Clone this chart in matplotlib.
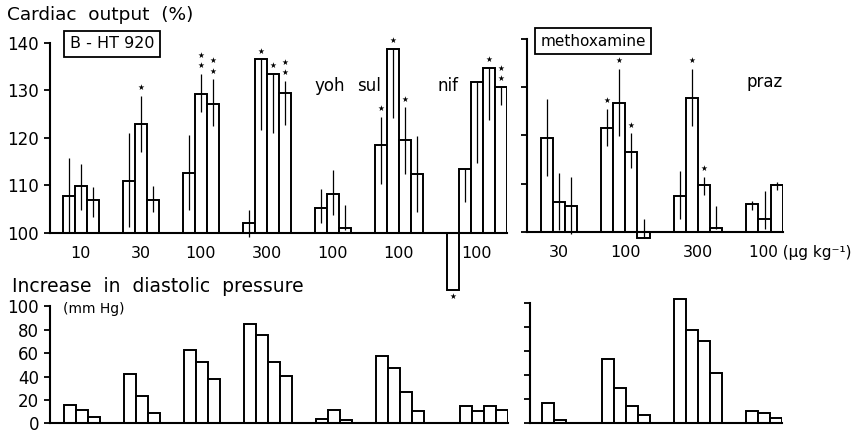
import matplotlib.pyplot as plt

# cardiac output (% of control), one list per dose group
co_bht = [[107.8, 109.8, 106.9], [110.9, 123.0, 106.9], [112.7, 129.3, 127.2],
          [102.2, 136.5, 133.5, 129.5], [105.3, 108.2, 101.1],
          [118.5, 138.7, 119.5, 112.4], [88.0, 113.4, 131.7, 134.7, 130.7]]
co_bht_lo = [[100.2, 104.8, 103.4], [101.2, 117.1, 104.5], [104.8, 125.5, 122.4],
             [99.2, 121.6, 121.0, 122.7], [102.1, 103.8, 100.6],
             [110.4, 124.1, 112.5, 104.5], [88.0, 106.6, 114.7, 123.7, 126.9]]
co_bht_hi = [[115.7, 114.6, 109.7], [121.0, 128.8, 109.9], [120.6, 133.5, 132.3],
             [104.8, 136.5, 133.5, 132.0], [109.2, 113.2, 105.9],
             [124.4, 138.7, 126.4, 120.4], [88.0, 113.4, 131.7, 134.7, 130.7]]
stars_bht = [[0, 0, 0], [0, 1, 0], [0, 2, 2], [0, 1, 1, 2], [0, 0, 0],
             [1, 1, 1, 0], [1, 0, 0, 1, 2]]
dose_bht = ['10', '30', '100', '300', '100', '100', '100']

co_mx = [[119.4, 106.2, 105.4], [121.6, 126.7, 116.6, 98.6],
         [107.5, 127.8, 109.6, 100.8], [105.7, 102.7, 109.6]]
co_mx_lo = [[111.5, 100.3, 99.6], [117.8, 119.9, 113.2, 98.6],
            [102.6, 122.0, 107.6, 100.6], [104.5, 100.6, 108.7]]
co_mx_hi = [[127.6, 112.2, 111.3], [125.5, 133.8, 120.4, 102.7],
            [112.5, 133.9, 111.3, 105.4], [106.4, 108.5, 110.4]]
stars_mx = [[0, 0, 0], [1, 1, 1, 0], [0, 1, 1, 0], [0, 0, 0]]
dose_mx = ['30', '100', '300', '100']

# increase in diastolic pressure (mm Hg)
dp_bht = [[15.5, 11.8, 5.3], [42.2, 23.7, 9.0], [62.5, 52.5, 38.2],
          [84.5, 75.2, 52.8, 40.8], [3.8, 11.3, 2.7],
          [57.3, 47.4, 26.9, 10.4], [0, 14.7, 10.4, 14.7, 11.8]]
dp_mx = [[16.7, 2.8, 0], [53.3, 29.2, 14.4, 6.7],
         [103.3, 77.5, 68.6, 41.7], [9.7, 8.1, 4.2]]

GAP = 2.0
W, H = 859, 433
LW = 1.4
FS = 12

plt.rcParams['font.family'] = ['DejaVu Sans']
fig = plt.figure(figsize=(W / 100, H / 100), dpi=100)


def px_axes(left, top, right, bottom):
    ax = fig.add_axes([left / W, 1 - bottom / H, (right - left) / W, (bottom - top) / H])
    ax.patch.set_alpha(0)
    return ax


def layout(groups):
    lefts, x = [], 0.0
    for g in groups:
        lefts.append(x)
        x += len(g) + GAP
    return lefts, x - GAP


def style(ax, base, top, labels=True):
    for s in ['top', 'right']:
        ax.spines[s].set_visible(False)
    ax.spines['left'].set_bounds(base, top)
    ax.spines['bottom'].set_position(('data', base))
    ax.spines['left'].set_linewidth(1.5)
    ax.spines['bottom'].set_linewidth(1.5)
    ax.set_xticks([])
    ax.tick_params(axis='y', direction='out', length=4, width=1.3,
                   labelsize=FS, pad=4, labelleft=labels)


def bars(ax, groups, base):
    lefts, end = layout(groups)
    for x0, g in zip(lefts, groups):
        for i, v in enumerate(g):
            if v == base:
                continue
            ax.bar(x0 + i, v - base, bottom=base, width=1, align='edge',
                   facecolor='white', edgecolor='black', linewidth=LW, zorder=2)
    return lefts, end


def whiskers_and_stars(ax, groups, lo, hi, stars, lefts):
    for x0, g, l, h, st in zip(lefts, groups, lo, hi, stars):
        for i in range(len(g)):
            xc = x0 + i + 0.5
            if h[i] > l[i]:
                ax.vlines(xc, l[i], h[i], color='black', linewidth=0.9, zorder=3)
            for k in range(st[i]):
                if g[i] < 100:
                    y, dy = g[i], -5 - 7 * k
                else:
                    y, dy = max(g[i], h[i]), 6 + 7.5 * k
                ax.annotate('★', (xc, y), xytext=(0, dy), textcoords='offset points',
                            ha='center', va='center', fontsize=5.5)


def dose_labels(ax, groups, lefts, labels):
    for x0, g, t in zip(lefts, groups, labels):
        ax.annotate(t, (x0 + len(g) / 2, 100), xytext=(0, -15), textcoords='offset points',
                    ha='center', va='center', fontsize=11.5)


# ---- cardiac output, B-HT 920 ----
ax1 = px_axes(50, 30, 50 + (37 + 1.06) * 12, 300)
lefts1, end1 = bars(ax1, co_bht, 100)
whiskers_and_stars(ax1, co_bht, co_bht_lo, co_bht_hi, stars_bht, lefts1)
ax1.set_xlim(-1.06, end1)
ax1.set_ylim(85.9, 142.7)
ax1.set_yticks([100, 110, 120, 130, 140])
style(ax1, 100, 140)
ax1.spines['bottom'].set_bounds(-1.06, end1)
dose_labels(ax1, co_bht, lefts1, dose_bht)
ax1.text(lefts1[4], 131, 'yoh', ha='left', va='center', fontsize=FS)
ax1.text(lefts1[5] + 0.5, 131, 'sul', ha='right', va='center', fontsize=FS)
ax1.text(lefts1[6] + 0.1, 131, 'nif', ha='center', va='center', fontsize=FS)

# ---- cardiac output, methoxamine ----
ax2 = px_axes(527, 30, 527 + (20 + 1.13) * 12.1, 300)
lefts2, end2 = bars(ax2, co_mx, 100)
whiskers_and_stars(ax2, co_mx, co_mx_lo, co_mx_hi, stars_mx, lefts2)
ax2.set_xlim(-1.13, end2)
ax2.set_ylim(85.8, 141.9)
ax2.set_yticks([100, 110, 120, 130, 140])
style(ax2, 100, 140, labels=False)
ax2.spines['bottom'].set_bounds(-1.13, end2)
dose_labels(ax2, co_mx[:-1], lefts2[:-1], dose_mx[:-1])
ax2.annotate(dose_mx[-1] + ' (μg kg⁻¹)', (lefts2[-1], 100), xytext=(2, -15),
             textcoords='offset points', ha='left', va='center', fontsize=11)
ax2.text(lefts2[3], 131, 'praz', ha='left', va='center', fontsize=FS)

# ---- diastolic pressure, B-HT 920 ----
ax3 = px_axes(50, 293, 50 + (37 + 1.17) * 12, 428)
lefts3, end3 = bars(ax3, dp_bht, 0)
ax3.set_xlim(-1.17, end3)
ax3.set_ylim(-3.84, 111.35)
ax3.set_yticks([0, 20, 40, 60, 80, 100])
style(ax3, 0, 100)
ax3.spines['bottom'].set_bounds(-1.17, end3)

# ---- diastolic pressure, methoxamine ----
ax4 = px_axes(530, 289, 530 + (20 + 1.02) * 12, 429)
lefts4, end4 = bars(ax4, dp_mx, 0)
ax4.set_xlim(-1.02, end4)
ax4.set_ylim(-5, 111.67)
ax4.set_yticks([0, 20, 40, 60, 80, 100])
style(ax4, 0, 100, labels=False)
ax4.spines['bottom'].set_bounds(-1.02, end4)

# titles and boxed drug names
fig.text(7 / W, 1 - 15 / H, 'Cardiac  output  (%)', ha='left', va='center', fontsize=13.3)
fig.text(12 / W, 1 - 287 / H, 'Increase  in  diastolic  pressure', ha='left', va='center',
         fontsize=13.5)
fig.text(63 / W, 1 - 309 / H, '(mm Hg)', ha='left', va='center', fontsize=10)
box = dict(boxstyle='square,pad=0.35', facecolor='white', edgecolor='black', linewidth=1.3)
fig.text(112 / W, 1 - 44 / H, 'B - HT 920', ha='center', va='center', fontsize=11.5, bbox=box)
fig.text(593 / W, 1 - 41 / H, 'methoxamine', ha='center', va='center', fontsize=11, bbox=box)

fig.savefig('out.png', dpi=100)
